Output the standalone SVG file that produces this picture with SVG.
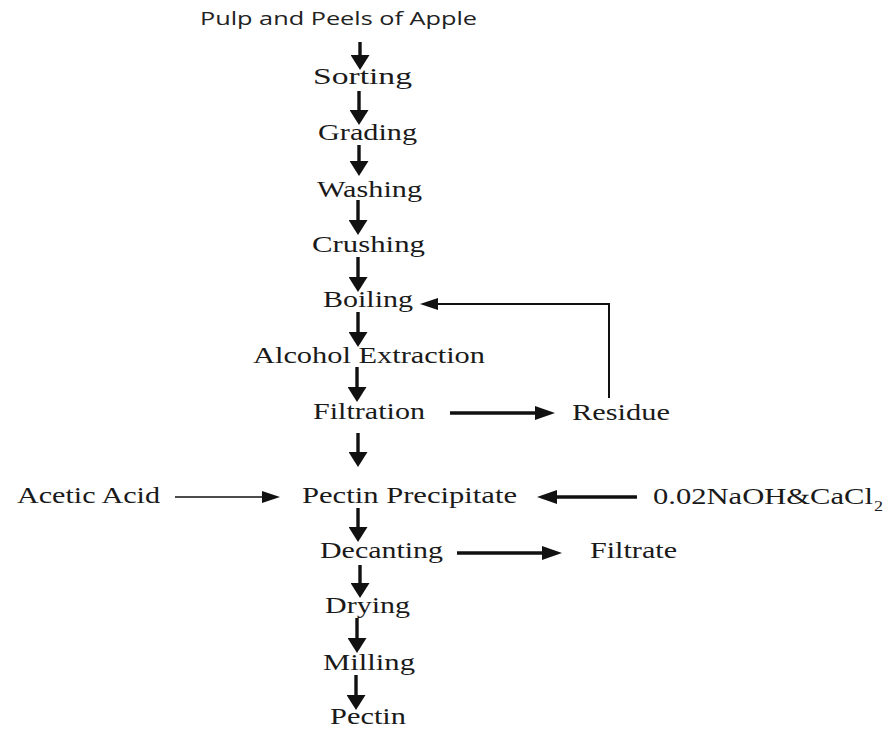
<svg xmlns="http://www.w3.org/2000/svg" width="889" height="730" viewBox="0 0 889 730">
<style>
.t{font-family:"Liberation Serif","Times New Roman",serif;font-size:22.5px;fill:#1a1a1a}
.s{font-family:"Open Sans","Liberation Sans",sans-serif;font-size:18px;fill:#222}
.c{fill:none;stroke:#111;stroke-width:3.4}
.v{marker-end:url(#headV)}
.h{marker-end:url(#headH)}
.hs{marker-end:url(#headS)}
</style>
<defs>
<marker id="headV" markerUnits="userSpaceOnUse" viewBox="0 0 15 19" markerWidth="15" markerHeight="19" refX="2" refY="9.5" orient="auto"><path d="M0,0 L15,9.5 L0,19 z" fill="#111"/></marker>
<marker id="headH" markerUnits="userSpaceOnUse" viewBox="0 0 20 14" markerWidth="20" markerHeight="14" refX="2" refY="7" orient="auto"><path d="M0,0 L20,7 L0,14 z" fill="#111"/></marker>
<marker id="headS" markerUnits="userSpaceOnUse" viewBox="0 0 18 12" markerWidth="18" markerHeight="12" refX="2" refY="6" orient="auto"><path d="M0,0 L18,6 L0,12 z" fill="#111"/></marker>
</defs>
<rect width="889" height="730" fill="#fff"/>
<g id="connectors">
<line class="c v" x1="360" y1="42" x2="360" y2="57"/>
<line class="c v" x1="359" y1="91" x2="359" y2="112"/>
<line class="c v" x1="359" y1="145" x2="359" y2="163"/>
<line class="c v" x1="358" y1="200" x2="358" y2="222"/>
<line class="c v" x1="358" y1="257" x2="358" y2="279"/>
<line class="c v" x1="358" y1="312" x2="358" y2="334"/>
<line class="c v" x1="357" y1="367" x2="357" y2="389"/>
<line class="c v" x1="358" y1="433" x2="358" y2="454"/>
<line class="c v" x1="358" y1="508" x2="358" y2="529"/>
<line class="c v" x1="360" y1="565" x2="360" y2="585"/>
<line class="c v" x1="357" y1="618" x2="357" y2="640"/>
<line class="c v" x1="356" y1="675" x2="356" y2="697"/>
<line class="c h" x1="450" y1="413" x2="537" y2="413"/>
<path class="c hs" style="stroke-width:2" d="M609,398 V304 H436"/>
<line class="c hs" style="stroke-width:1.5" x1="175" y1="497" x2="264" y2="497"/>
<line class="c h" x1="637" y1="497" x2="555" y2="497"/>
<line class="c h" x1="457" y1="553" x2="544" y2="553"/>
</g>
<g id="n-pulp"><text class="s" x="200" y="25" textLength="277" lengthAdjust="spacingAndGlyphs">Pulp and Peels of Apple</text></g>
<g id="n-sorting"><text class="t" x="313" y="84" textLength="99" lengthAdjust="spacingAndGlyphs">Sorting</text></g>
<g id="n-grading"><text class="t" x="318" y="140" textLength="99" lengthAdjust="spacingAndGlyphs">Grading</text></g>
<g id="n-washing"><text class="t" x="317" y="197" textLength="105" lengthAdjust="spacingAndGlyphs">Washing</text></g>
<g id="n-crushing"><text class="t" x="312" y="252" textLength="113" lengthAdjust="spacingAndGlyphs">Crushing</text></g>
<g id="n-boiling"><text class="t" x="323" y="307" textLength="90" lengthAdjust="spacingAndGlyphs">Boiling</text></g>
<g id="n-alcohol"><text class="t" x="253" y="363" textLength="232" lengthAdjust="spacingAndGlyphs">Alcohol Extraction</text></g>
<g id="n-filtration"><text class="t" x="313" y="419" textLength="112" lengthAdjust="spacingAndGlyphs">Filtration</text></g>
<g id="n-residue"><text class="t" x="572" y="420" textLength="98" lengthAdjust="spacingAndGlyphs">Residue</text></g>
<g id="n-acetic"><text class="t" x="17" y="503" textLength="143" lengthAdjust="spacingAndGlyphs">Acetic Acid</text></g>
<g id="n-precipitate"><text class="t" x="302" y="503" textLength="215" lengthAdjust="spacingAndGlyphs">Pectin Precipitate</text></g>
<g id="n-naoh"><text class="t" x="653" y="504" textLength="220" lengthAdjust="spacingAndGlyphs">0.02NaOH&amp;CaCl</text><text class="t" x="874" y="511" style="font-size:15px" textLength="9" lengthAdjust="spacingAndGlyphs">2</text></g>
<g id="n-decanting"><text class="t" x="320" y="558" textLength="123" lengthAdjust="spacingAndGlyphs">Decanting</text></g>
<g id="n-filtrate"><text class="t" x="590" y="558" textLength="87" lengthAdjust="spacingAndGlyphs">Filtrate</text></g>
<g id="n-drying"><text class="t" x="325" y="613" textLength="85" lengthAdjust="spacingAndGlyphs">Drying</text></g>
<g id="n-milling"><text class="t" x="323" y="670" textLength="92" lengthAdjust="spacingAndGlyphs">Milling</text></g>
<g id="n-pectin"><text class="t" x="330" y="724" textLength="76" lengthAdjust="spacingAndGlyphs">Pectin</text></g>
</svg>
